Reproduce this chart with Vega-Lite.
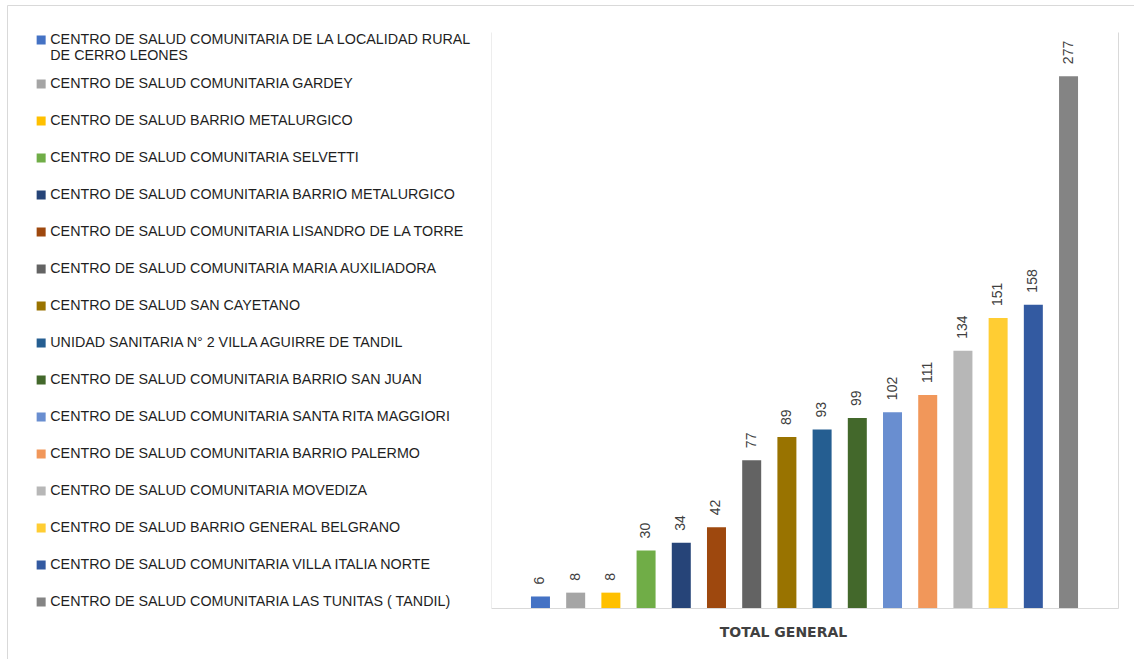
{
  "$schema": "https://vega.github.io/schema/vega-lite/v6.json",
  "autosize": "none",
  "padding": {"left": 7, "top": 5, "right": 0, "bottom": 0},
  "width": 1128,
  "height": 655,
  "background": "white",
  "config": {
    "view": {"stroke": "#D9D9D9", "strokeWidth": 1},
    "font": "Liberation Sans"
  },
  "data": {
    "values": [
      {"centro": "CENTRO DE SALUD COMUNITARIA DE LA LOCALIDAD RURAL DE CERRO LEONES", "total": 6},
      {"centro": "CENTRO DE  SALUD COMUNITARIA  GARDEY", "total": 8},
      {"centro": "CENTRO DE SALUD BARRIO METALURGICO", "total": 8},
      {"centro": "CENTRO DE SALUD COMUNITARIA SELVETTI", "total": 30},
      {"centro": "CENTRO DE SALUD COMUNITARIA BARRIO METALURGICO", "total": 34},
      {"centro": "CENTRO DE SALUD COMUNITARIA LISANDRO DE LA TORRE", "total": 42},
      {"centro": "CENTRO DE SALUD COMUNITARIA MARIA AUXILIADORA", "total": 77},
      {"centro": "CENTRO DE SALUD SAN CAYETANO", "total": 89},
      {"centro": "UNIDAD SANITARIA N° 2 VILLA AGUIRRE DE TANDIL", "total": 93},
      {"centro": "CENTRO DE SALUD COMUNITARIA BARRIO SAN JUAN", "total": 99},
      {"centro": "CENTRO DE SALUD COMUNITARIA SANTA RITA MAGGIORI", "total": 102},
      {"centro": "CENTRO DE SALUD COMUNITARIA BARRIO PALERMO", "total": 111},
      {"centro": "CENTRO DE SALUD COMUNITARIA MOVEDIZA", "total": 134},
      {"centro": "CENTRO DE SALUD BARRIO GENERAL BELGRANO", "total": 151},
      {"centro": "CENTRO DE SALUD COMUNITARIA  VILLA ITALIA NORTE", "total": 158},
      {"centro": "CENTRO DE SALUD COMUNITARIA LAS TUNITAS   (   TANDIL)", "total": 277}
    ]
  },
  "encoding": {
    "x": {
      "field": "centro",
      "type": "nominal",
      "sort": null,
      "scale": {"range": [484, 1111], "paddingInner": 0.19, "paddingOuter": 1},
      "axis": {
        "orient": "bottom",
        "offset": -52,
        "labels": false,
        "ticks": false,
        "grid": false,
        "domainColor": "#D9D9D9",
        "domainWidth": 1,
        "title": "TOTAL GENERAL",
        "titleFont": "DejaVu Sans",
        "titleFontSize": 14,
        "titleFontWeight": "bold",
        "titleColor": "#404040",
        "titleX": 776,
        "titleY": 24,
        "titleAlign": "center",
        "titleBaseline": "middle",
        "titleAnchor": null
      }
    }
  },
  "layer": [
    {
      "mark": {"type": "bar", "width": 19},
      "encoding": {
        "y": {
          "field": "total",
          "type": "quantitative",
          "scale": {"domain": [0, 300], "range": [603, 27], "nice": false},
          "axis": {
            "orient": "right",
            "offset": -17,
            "labels": false,
            "ticks": false,
            "grid": false,
            "title": null,
            "domainColor": "#D9D9D9",
            "domainWidth": 1
          }
        },
        "color": {
          "field": "centro",
          "type": "nominal",
          "sort": null,
          "scale": {
            "range": ["#4472C4", "#A5A5A5", "#FFC000", "#70AD47", "#264478", "#9E480E", "#636363", "#997300", "#255E91", "#43682B", "#698ED0", "#F1975A", "#B7B7B7", "#FFCD33", "#335AA1", "#848484"]
          },
          "legend": {
            "orient": "none",
            "legendX": 27,
            "legendY": 18,
            "title": null,
            "padding": 0,
            "symbolType": "square",
            "symbolSize": 81,
            "symbolStrokeWidth": 0,
            "symbolOpacity": 1,
            "clipHeight": 34,
            "rowPadding": 3,
            "labelOffset": 2,
            "labelFont": "Liberation Sans",
            "labelFontSize": 14.3,
            "labelColor": "#1F1F1F",
            "labelLimit": 600,
            "labelBaseline": "middle",
            "labelExpr": "datum.label == 'CENTRO DE SALUD COMUNITARIA DE LA LOCALIDAD RURAL DE CERRO LEONES' ? ['CENTRO DE SALUD COMUNITARIA DE LA LOCALIDAD RURAL', 'DE CERRO LEONES'] : datum.label"
          }
        }
      }
    },
    {
      "mark": {"type": "text", "angle": 270, "align": "left", "baseline": "middle", "dx": 12, "font": "Liberation Sans", "fontSize": 14, "color": "#404040"},
      "encoding": {
        "y": {
          "field": "total",
          "type": "quantitative",
          "axis": {
            "orient": "left",
            "offset": -484,
            "labels": false,
            "ticks": false,
            "grid": false,
            "title": null,
            "domainColor": "#EDEDED",
            "domainWidth": 1
          }
        },
        "text": {"field": "total", "type": "quantitative"}
      }
    }
  ],
  "resolve": {"axis": {"y": "independent"}}
}
